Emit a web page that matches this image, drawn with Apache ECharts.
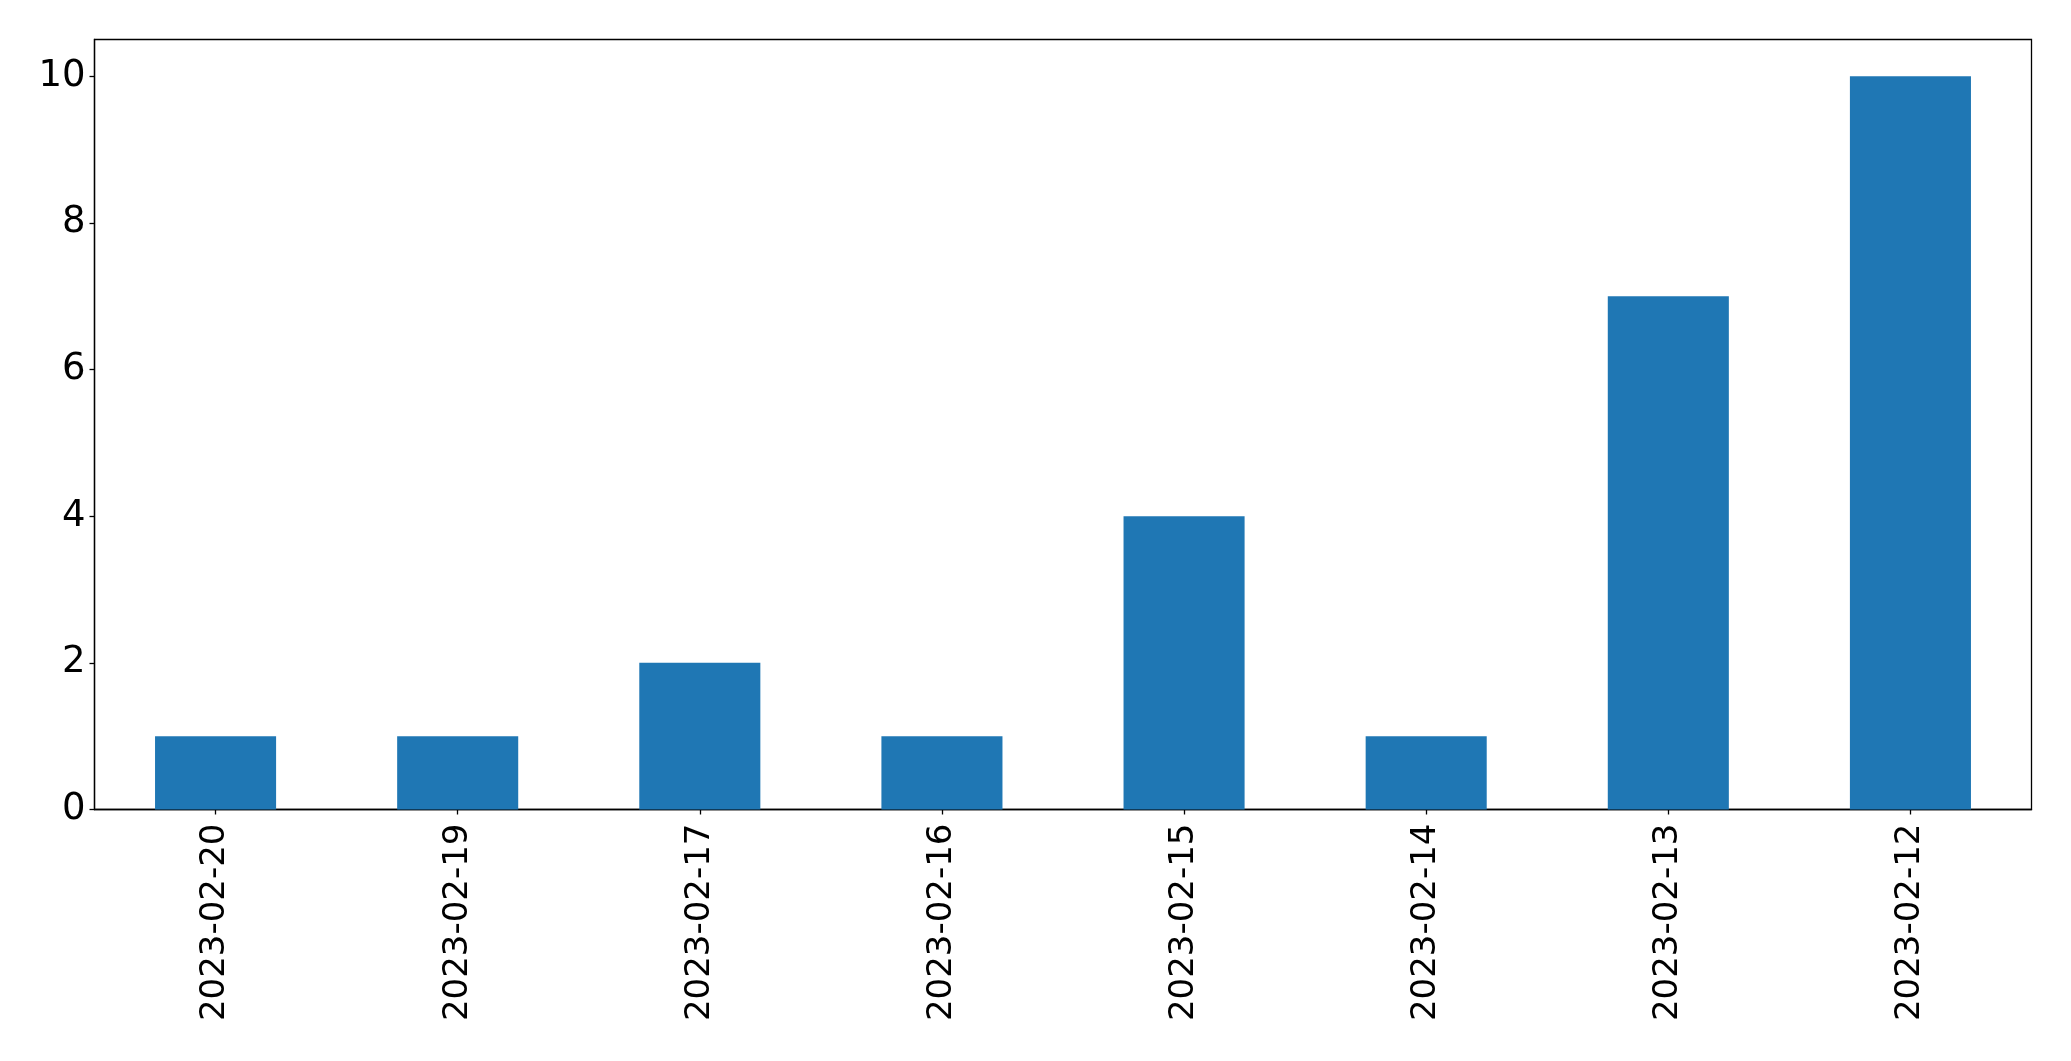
<!DOCTYPE html>
<html>
<head>
<meta charset="utf-8">
<script src="https://cdn.jsdelivr.net/npm/echarts@6/dist/echarts.min.js"></script>
<style>html,body{margin:0;padding:0;background:#fff;}#c{width:2071px;height:1061px;}</style>
</head>
<body>
<div id="c"></div>
<script>
const categories = ['2023-02-20','2023-02-19','2023-02-17','2023-02-16','2023-02-15','2023-02-14','2023-02-13','2023-02-12'];
const counts = [1, 1, 2, 1, 4, 1, 7, 10];
const yTicks = [0, 2, 4, 6, 8, 10];

const chart = echarts.init(document.getElementById('c'), null, {renderer: 'canvas'});
chart.setOption({
  animation: false,
  backgroundColor: '#ffffff',
  grid: {left: 94.5, top: 39.5, right: 39.5, bottom: 251.5, show: true, borderColor: '#000', borderWidth: 1.3, backgroundColor: 'transparent'},
  xAxis: {
    type: 'category',
    data: categories,
    boundaryGap: true,
    axisLine: {show: true, lineStyle: {color: '#000', width: 1.3}},
    axisTick: {show: true, alignWithLabel: true, length: 5, lineStyle: {color: '#000', width: 1.3}},
    axisLabel: {rotate: 90, margin: 14, fontSize: 34, color: '#000', fontFamily: 'DejaVu Sans', interval: 0}
  },
  yAxis: {
    type: 'value',
    min: 0, max: 10.5,
    axisLine: {show: true, lineStyle: {color: '#000', width: 1.3}},
    axisTick: {show: true, length: 5, customValues: yTicks, lineStyle: {color: '#000', width: 1.3}},
    axisLabel: {customValues: yTicks, margin: 9, fontSize: 37, color: '#000', fontFamily: 'DejaVu Sans'},
    splitLine: {show: false}
  },
  series: [{
    type: 'bar',
    data: counts,
    barWidth: '50%',
    itemStyle: {color: '#1f77b4'}
  }]
});
</script>
</body>
</html>
